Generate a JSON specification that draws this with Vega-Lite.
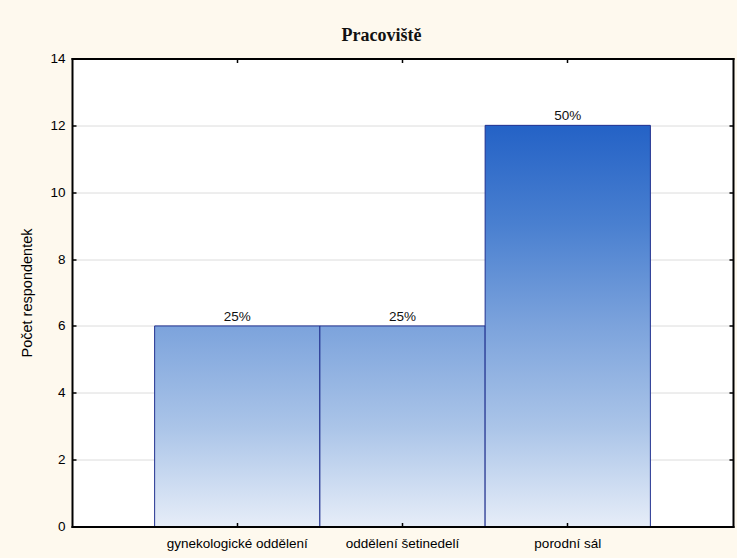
{
  "$schema": "https://vega.github.io/schema/vega-lite/v6.json",
  "width": 661,
  "height": 468,
  "autosize": "none",
  "padding": {"left": 72, "top": 58.5, "right": 4, "bottom": 31.5},
  "background": "#fef9ee",
  "config": {
    "view": {"fill": "white", "stroke": null},
    "axis": {
      "domainColor": "black",
      "domainWidth": 2,
      "domainCap": "square",
      "tickColor": "black",
      "tickWidth": 1.5,
      "tickSize": -4,
      "labelFont": "Liberation Sans",
      "labelFontSize": 13.5,
      "labelColor": "black",
      "titleFont": "Liberation Sans",
      "titleFontWeight": "normal",
      "titleColor": "black"
    }
  },
  "title": {
    "text": "Pracoviště",
    "font": "Liberation Serif",
    "fontSize": 18,
    "fontWeight": "bold",
    "color": "#111111",
    "frame": "group",
    "anchor": "middle",
    "baseline": "alphabetic",
    "dx": -21,
    "dy": 23,
    "offset": 16
  },
  "data": {
    "values": [
      {"pracoviste": "gynekologické oddělení", "pocet": 6, "podil": 0.25},
      {"pracoviste": "oddělení šetinedelí", "pocet": 6, "podil": 0.25},
      {"pracoviste": "porodní sál", "pocet": 12, "podil": 0.5}
    ]
  },
  "resolve": {"axis": {"x": "independent", "y": "independent"}},
  "layer": [
    {
      "mark": {"type": "bar", "stroke": "#20308f", "strokeWidth": 1},
      "encoding": {
        "x": {
          "field": "pracoviste",
          "type": "nominal",
          "sort": null,
          "scale": {"paddingInner": 0, "paddingOuter": 0.5},
          "axis": {
            "orient": "bottom",
            "title": null,
            "labelAngle": 0,
            "labelPadding": 14,
            "zindex": 1
          }
        },
        "y": {
          "field": "pocet",
          "type": "quantitative",
          "scale": {"domain": [0, 14], "nice": false},
          "axis": {
            "orient": "left",
            "values": [0, 2, 4, 6, 8, 10, 12, 14],
            "title": "Počet respondentek",
            "titleFontSize": 14.5,
            "titleAngle": -90,
            "titleAlign": "center",
            "titleBaseline": "middle",
            "titleX": -45,
            "titleY": 234,
            "labelPadding": 11,
            "grid": true,
            "gridColor": "#dcdcdc",
            "gridWidth": 1,
            "zindex": 0
          }
        },
        "color": {
          "condition": {
            "test": "datum.pocet >= 12",
            "value": {
              "gradient": "linear",
              "x1": 0, "y1": 0, "x2": 0, "y2": 1,
              "stops": [
                {"offset": 0, "color": "#2462c6"},
                {"offset": 0.25, "color": "#4a80d0"},
                {"offset": 0.5, "color": "#7ca3dc"},
                {"offset": 0.75, "color": "#aac4e8"},
                {"offset": 1, "color": "#e6edf8"}
              ]
            }
          },
          "value": {
            "gradient": "linear",
            "x1": 0, "y1": 0, "x2": 0, "y2": 1,
            "stops": [
              {"offset": 0, "color": "#7ca3dc"},
              {"offset": 0.5, "color": "#aac4e8"},
              {"offset": 1, "color": "#e6edf8"}
            ]
          }
        }
      }
    },
    {
      "mark": {
        "type": "text",
        "baseline": "alphabetic",
        "dy": -5,
        "font": "Liberation Sans",
        "fontSize": 13.5,
        "color": "#111111"
      },
      "encoding": {
        "x": {
          "field": "pracoviste",
          "type": "nominal",
          "sort": null,
          "axis": {"orient": "top", "title": null, "labels": false, "zindex": 1}
        },
        "y": {
          "field": "pocet",
          "type": "quantitative",
          "axis": {
            "orient": "right",
            "values": [0, 2, 4, 6, 8, 10, 12, 14],
            "title": null,
            "labels": false,
            "grid": false,
            "zindex": 1
          }
        },
        "text": {"field": "podil", "type": "quantitative", "format": ".0%"}
      }
    }
  ]
}
